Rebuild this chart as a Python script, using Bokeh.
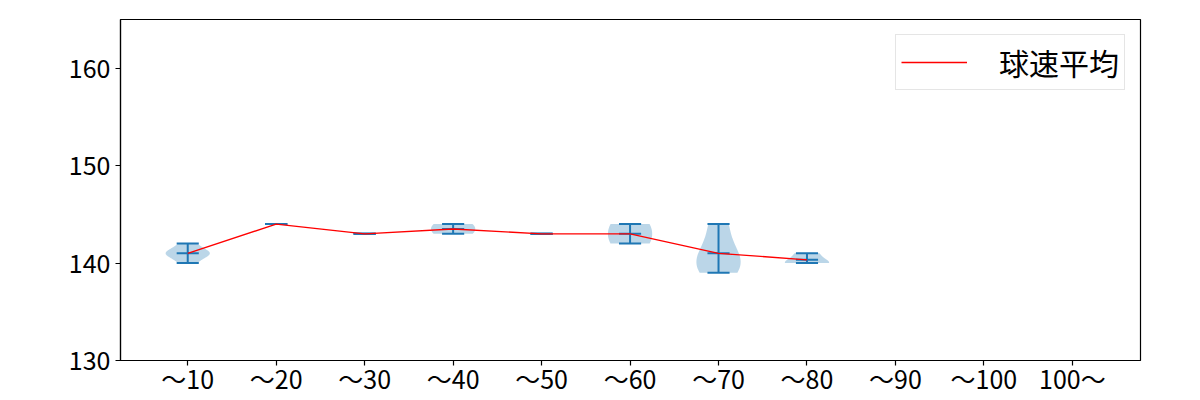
import numpy as np
from bokeh.plotting import figure
from bokeh.models import FixedTicker, ColumnDataSource
from bokeh.embed import file_html
from bokeh.resources import INLINE

# ---- data (pitch speeds in km/h per category) ----
categories = ["〜10", "〜20", "〜30", "〜40", "〜50", "〜60", "〜70", "〜80", "〜90", "〜100", "100〜"]
s_10 = [140, 141, 141, 141, 142]
s_20 = [144]
s_30 = [143]
s_40 = [143, 144]
s_50 = [143]
s_60 = [142, 144]
s_70 = [139, 140, 141, 144]
s_80 = [140, 140, 141]
s_90 = []
s_100 = []
s_100p = []
samples = [s_10, s_20, s_30, s_40, s_50, s_60, s_70, s_80, s_90, s_100, s_100p]
y_ticks = [130, 140, 150, 160]
legend_label = "球速平均"

BLUE = "#1f77b4"
FONT = "Noto Sans CJK JP"


def kde(data, coords):
    d = np.asarray(data, dtype=float)
    n = d.size
    factor = n ** (-1.0 / 5.0)
    var = np.var(d, ddof=1) * factor ** 2
    diff = coords[:, None] - d[None, :]
    return np.exp(-0.5 * diff ** 2 / var).sum(axis=1)


p = figure(width=1200, height=400, output_backend="svg", toolbar_location=None,
           x_range=(0.24, 11.77), y_range=(130, 165),
           min_border_left=120, min_border_right=60, min_border_top=19, min_border_bottom=40)

vxs, vys = [], []
seg = dict(x0=[], y0=[], x1=[], y1=[])
mean_x, mean_y = [], []
half_cap = 0.125
for i, s in enumerate(samples):
    pos = i + 1
    if len(s) == 0:
        continue
    lo, hi, mu = min(s), max(s), float(np.mean(s))
    if hi > lo:
        coords = np.linspace(lo, hi, 100)
        vals = kde(s, coords)
        vals = 0.25 * vals / vals.max()
        vxs.append(list(pos - vals) + list((pos + vals)[::-1]))
        vys.append(list(coords) + list(coords[::-1]))
    for yv in (lo, hi, mu):
        seg["x0"].append(pos - half_cap); seg["x1"].append(pos + half_cap)
        seg["y0"].append(yv); seg["y1"].append(yv)
    seg["x0"].append(pos); seg["x1"].append(pos)
    seg["y0"].append(lo); seg["y1"].append(hi)
    mean_x.append(pos); mean_y.append(mu)

p.patches(xs=vxs, ys=vys, fill_color=BLUE, fill_alpha=0.3, line_color=None)
p.segment(x0="x0", y0="y0", x1="x1", y1="y1", source=ColumnDataSource(seg),
          line_color=BLUE, line_width=2)
p.line(mean_x, mean_y, line_color="red", line_width=1.4, legend_label=legend_label)

# axes
p.xaxis.ticker = FixedTicker(ticks=list(range(1, len(categories) + 1)))
p.xaxis.major_label_overrides = {i + 1: c for i, c in enumerate(categories)}
p.yaxis.ticker = FixedTicker(ticks=y_ticks)
for ax in (p.xaxis[0], p.yaxis[0]):
    ax.major_label_text_font = FONT
    ax.major_label_text_font_size = "25px"
    ax.major_label_text_color = "black"
    ax.axis_line_color = "black"
    ax.axis_line_width = 1.2
    ax.major_tick_line_color = "black"
    ax.major_tick_line_width = 1.2
    ax.major_tick_out = 5
    ax.major_tick_in = 0
    ax.minor_tick_line_color = None
p.xaxis.major_label_standoff = -6
p.yaxis.major_label_standoff = 5
p.xgrid.grid_line_color = None
p.ygrid.grid_line_color = None
p.outline_line_color = "black"
p.outline_line_alpha = 1
p.outline_line_width = 1.2
p.background_fill_color = "white"
p.border_fill_color = "white"

lg = p.legend[0]
lg.location = "top_right"
lg.margin = 15
lg.padding = 5
lg.spacing = 0
lg.glyph_width = 66
lg.glyph_height = 30
lg.label_height = 30
lg.label_standoff = 32
lg.label_text_font = FONT
lg.label_text_font_size = "30px"
lg.label_text_color = "black"
lg.border_line_color = "#cccccc"
lg.border_line_width = 1
lg.background_fill_alpha = 0.8

open("out.html", "w").write(file_html(p, INLINE))
